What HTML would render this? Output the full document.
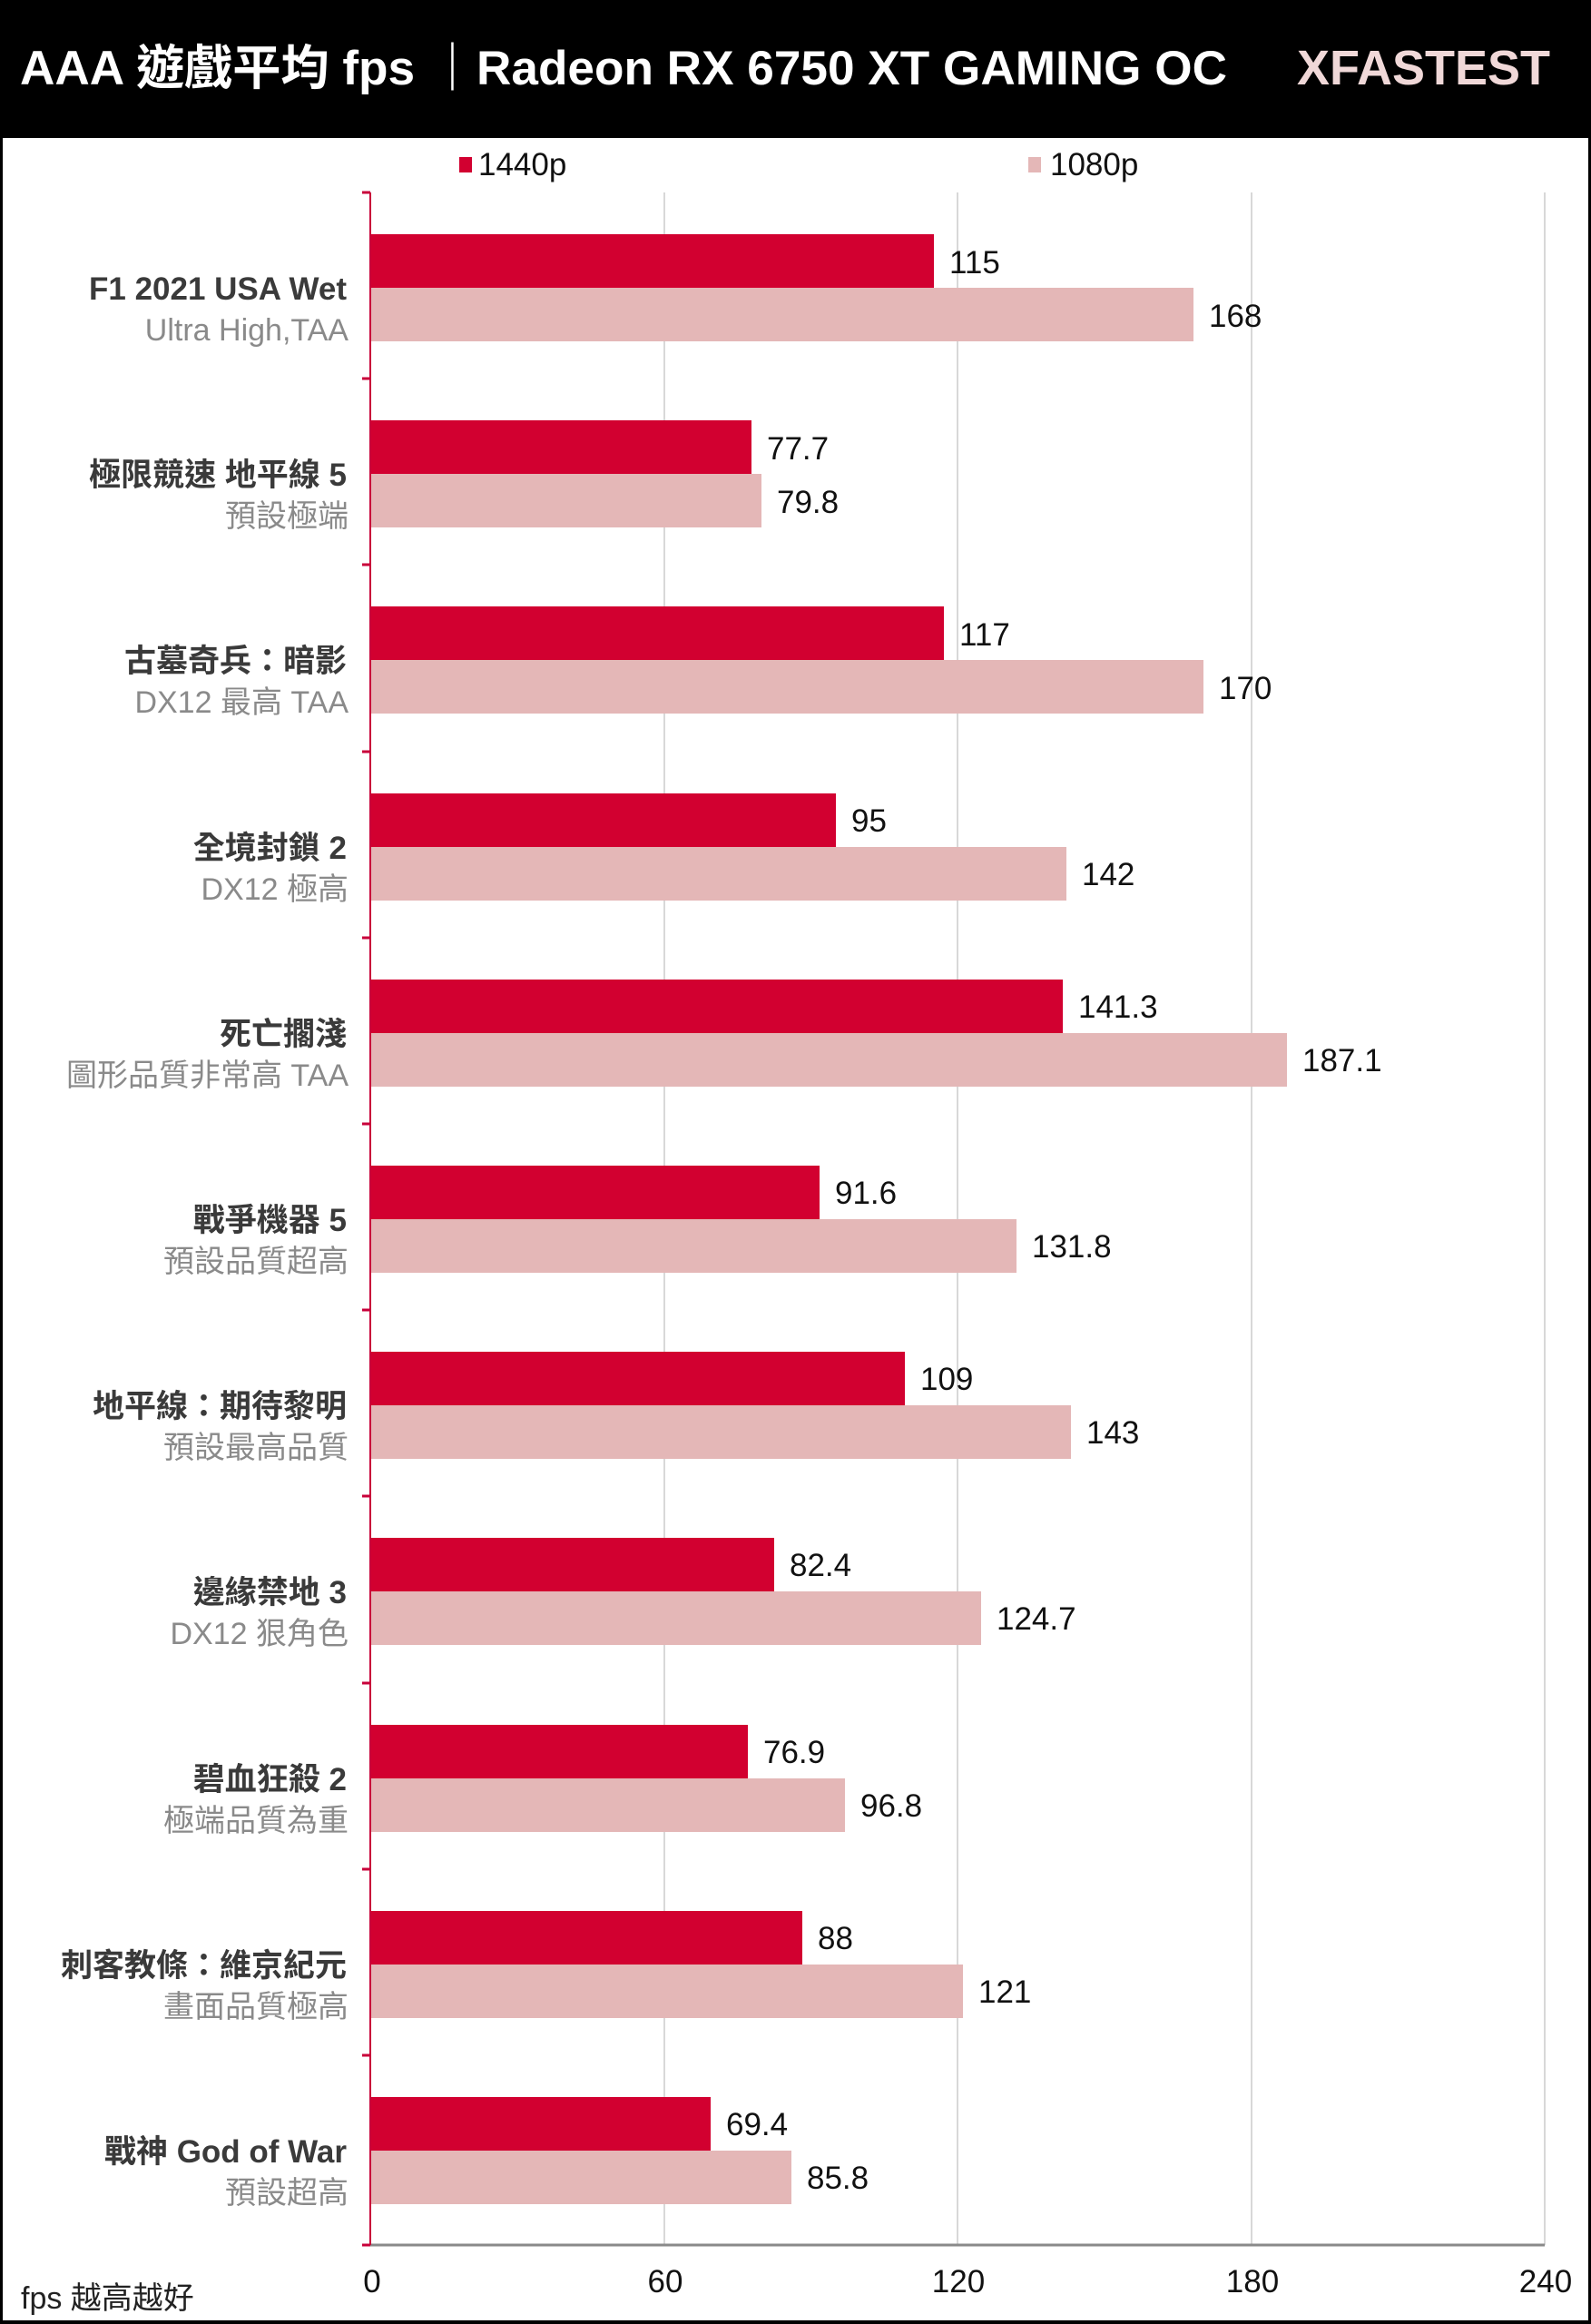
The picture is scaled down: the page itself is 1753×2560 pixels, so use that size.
<!DOCTYPE html>
<html><head><meta charset="utf-8"><style>
html,body{margin:0;padding:0;background:#fff}
svg{display:block}
text{font-family:"Liberation Sans","Noto Sans CJK TC",sans-serif}
.t{font-weight:bold;font-size:35px;fill:#3a3a3a;text-anchor:end}
.s{font-size:34px;fill:#8a8a8a;text-anchor:end}
.v{font-size:35px;fill:#111}
.k{font-size:35px;fill:#111;text-anchor:middle}
</style></head><body>
<svg width="1753" height="2560" viewBox="0 0 1753 2560" xmlns="http://www.w3.org/2000/svg">
<rect x="0" y="0" width="1753" height="2560" fill="#000"/>
<rect x="3" y="152" width="1747" height="2404" fill="#fff"/>
<text x="22" y="93" font-size="53" font-weight="bold" fill="#fff" textLength="1330" lengthAdjust="spacingAndGlyphs">AAA 遊戲平均 fps ｜Radeon RX 6750 XT GAMING OC</text>
<text x="1708" y="93" font-size="54" font-weight="bold" fill="#f0d8d8" text-anchor="end">XFASTEST</text>
<rect x="506" y="173" width="14" height="17" fill="#d20030"/>
<text x="527" y="193" font-size="35" fill="#111">1440p</text>
<rect x="1133" y="173" width="14" height="17" fill="#e4b7b7"/>
<text x="1157" y="193" font-size="35" fill="#111">1080p</text>
<g stroke="#d8d8d8" stroke-width="2">
<line x1="732" y1="212" x2="732" y2="2473"/><line x1="1055" y1="212" x2="1055" y2="2473"/><line x1="1379" y1="212" x2="1379" y2="2473"/><line x1="1702" y1="212" x2="1702" y2="2473"/>
</g>
<line x1="408" y1="2473" x2="1702" y2="2473" stroke="#8a8a8a" stroke-width="3"/>
<line x1="408" y1="212" x2="408" y2="2473" stroke="#c8003a" stroke-width="2"/>
<g stroke="#c8003a" stroke-width="3">
<line x1="399" y1="212" x2="408" y2="212"/><line x1="399" y1="417" x2="408" y2="417"/><line x1="399" y1="622" x2="408" y2="622"/><line x1="399" y1="828" x2="408" y2="828"/><line x1="399" y1="1033" x2="408" y2="1033"/><line x1="399" y1="1238" x2="408" y2="1238"/><line x1="399" y1="1443" x2="408" y2="1443"/><line x1="399" y1="1648" x2="408" y2="1648"/><line x1="399" y1="1854" x2="408" y2="1854"/><line x1="399" y1="2059" x2="408" y2="2059"/><line x1="399" y1="2264" x2="408" y2="2264"/><line x1="399" y1="2473" x2="408" y2="2473"/>
</g>
<g fill="#d20030">
<rect x="409" y="258" width="620" height="59"/>
<rect x="409" y="463" width="419" height="59"/>
<rect x="409" y="668" width="631" height="59"/>
<rect x="409" y="874" width="512" height="59"/>
<rect x="409" y="1079" width="762" height="59"/>
<rect x="409" y="1284" width="494" height="59"/>
<rect x="409" y="1489" width="588" height="59"/>
<rect x="409" y="1694" width="444" height="59"/>
<rect x="409" y="1900" width="415" height="59"/>
<rect x="409" y="2105" width="475" height="59"/>
<rect x="409" y="2310" width="374" height="59"/>
</g>
<g fill="#e4b7b7">
<rect x="409" y="317" width="906" height="59"/>
<rect x="409" y="522" width="430" height="59"/>
<rect x="409" y="727" width="917" height="59"/>
<rect x="409" y="933" width="766" height="59"/>
<rect x="409" y="1138" width="1009" height="59"/>
<rect x="409" y="1343" width="711" height="59"/>
<rect x="409" y="1548" width="771" height="59"/>
<rect x="409" y="1753" width="672" height="59"/>
<rect x="409" y="1959" width="522" height="59"/>
<rect x="409" y="2164" width="652" height="59"/>
<rect x="409" y="2369" width="463" height="59"/>
</g>
<text class="v" x="1046" y="301">115</text><text class="v" x="1332" y="360">168</text>
<text class="v" x="845" y="506">77.7</text><text class="v" x="856" y="565">79.8</text>
<text class="v" x="1057" y="711">117</text><text class="v" x="1343" y="770">170</text>
<text class="v" x="938" y="916">95</text><text class="v" x="1192" y="975">142</text>
<text class="v" x="1188" y="1121">141.3</text><text class="v" x="1435" y="1180">187.1</text>
<text class="v" x="920" y="1326">91.6</text><text class="v" x="1137" y="1385">131.8</text>
<text class="v" x="1014" y="1531">109</text><text class="v" x="1197" y="1590">143</text>
<text class="v" x="870" y="1736">82.4</text><text class="v" x="1098" y="1795">124.7</text>
<text class="v" x="841" y="1942">76.9</text><text class="v" x="948" y="2001">96.8</text>
<text class="v" x="901" y="2147">88</text><text class="v" x="1078" y="2206">121</text>
<text class="v" x="800" y="2352">69.4</text><text class="v" x="889" y="2411">85.8</text>
<text class="t" x="382" y="330">F1 2021 USA Wet</text><text class="s" x="384" y="375">Ultra High,TAA</text>
<text class="t" x="382" y="535">極限競速 地平線 5</text><text class="s" x="384" y="580">預設極端</text>
<text class="t" x="382" y="740">古墓奇兵：暗影</text><text class="s" x="384" y="785">DX12 最高 TAA</text>
<text class="t" x="382" y="946">全境封鎖 2</text><text class="s" x="384" y="991">DX12 極高</text>
<text class="t" x="382" y="1151">死亡擱淺</text><text class="s" x="384" y="1196">圖形品質非常高 TAA</text>
<text class="t" x="382" y="1356">戰爭機器 5</text><text class="s" x="384" y="1401">預設品質超高</text>
<text class="t" x="382" y="1561">地平線：期待黎明</text><text class="s" x="384" y="1606">預設最高品質</text>
<text class="t" x="382" y="1766">邊緣禁地 3</text><text class="s" x="384" y="1811">DX12 狠角色</text>
<text class="t" x="382" y="1972">碧血狂殺 2</text><text class="s" x="384" y="2017">極端品質為重</text>
<text class="t" x="382" y="2177">刺客教條：維京紀元</text><text class="s" x="384" y="2222">畫面品質極高</text>
<text class="t" x="382" y="2382">戰神 God of War</text><text class="s" x="384" y="2427">預設超高</text>
<text class="k" x="410" y="2525">0</text><text class="k" x="733" y="2525">60</text><text class="k" x="1056" y="2525">120</text><text class="k" x="1380" y="2525">180</text><text class="k" x="1703" y="2525">240</text>
<text x="23" y="2543" font-size="34" fill="#222">fps 越高越好</text>
</svg>
</body></html>
